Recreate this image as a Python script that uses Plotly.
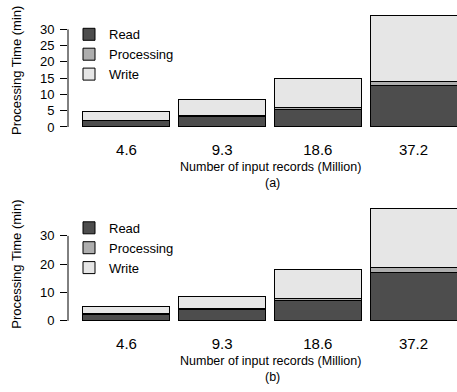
import plotly.graph_objects as go

# ---------------- data ----------------
categories = ["4.6", "9.3", "18.6", "37.2"]
series_names = ["Read", "Processing", "Write"]

read_a = [2.0, 3.2, 5.3, 12.7]
proc_a = [0.15, 0.2, 0.8, 1.3]
write_a = [2.6, 4.9, 8.9, 20.4]

read_b = [2.3, 4.0, 7.1, 17.2]
proc_b = [0.15, 0.2, 0.95, 1.7]
write_b = [2.65, 4.4, 10.0, 20.7]

yticks_a = [0, 5, 10, 15, 20, 25, 30]
yticks_b = [0, 10, 20, 30]

x_title = "Number of input records (Million)"
y_title = "Processing Time (min)"
panel_labels = ["(a)", "(b)"]

# ---------------- style ----------------
W, H = 457, 392
FONT = "Liberation Sans, Arial, Helvetica, sans-serif"
colors = ["#4D4D4D", "#AEAEAE", "#E6E6E6"]

fig = go.Figure()

panels = [
    dict(data=[read_a, proc_a, write_a], xa="x", ya="y", lg="legend"),
    dict(data=[read_b, proc_b, write_b], xa="x2", ya="y2", lg="legend2"),
]
for p in panels:
    for name, vals, col in zip(series_names, p["data"], colors):
        fig.add_trace(go.Bar(
            x=categories, y=vals, name=name,
            marker=dict(color=col, line=dict(color="black", width=1)),
            xaxis=p["xa"], yaxis=p["ya"], legend=p["lg"],
            hoverinfo="skip",
        ))

def px_to_paper_y(py):
    return 1 - py / H

x_dom = [68 / W, 1.0]
x_rng = [-0.611, 3.4545]

common_x = dict(domain=x_dom, type="category", range=x_rng, showline=False,
                ticks="", showgrid=False, zeroline=False,
                tickfont=dict(size=15, color="black", family=FONT),
                ticklabelstandoff=8)
common_y = dict(showline=False, ticks="outside", ticklen=7, tickwidth=1,
                tickcolor="black", showgrid=False, zeroline=False,
                tickfont=dict(size=13, color="black", family=FONT),
                ticklabelstandoff=3, tickmode="array")

# panel (a): zero at 128.3 px, 3.28 px/unit ; panel (b): zero at 323.3 px, 2.853 px/unit
ya_rng = [-1.378, 35.83]
yb_rng = [-1.584, 41.18]
fig.update_layout(
    xaxis=dict(common_x, anchor="y"),
    yaxis=dict(common_y, anchor="x", domain=[px_to_paper_y(132.5), px_to_paper_y(10.5)],
               range=ya_rng, tickvals=yticks_a, ticktext=[str(v) for v in yticks_a]),
    xaxis2=dict(common_x, anchor="y2"),
    yaxis2=dict(common_y, anchor="x2", domain=[px_to_paper_y(327.8), px_to_paper_y(205.8)],
                range=yb_rng, tickvals=yticks_b, ticktext=[str(v) for v in yticks_b]),
)

# R-style axis lines spanning only the tick range
fig.add_shape(type="line", xref="x domain", yref="y", x0=0, x1=0,
              y0=yticks_a[0], y1=yticks_a[-1], line=dict(color="black", width=1))
fig.add_shape(type="line", xref="x2 domain", yref="y2", x0=0, x1=0,
              y0=yticks_b[0], y1=yticks_b[-1], line=dict(color="black", width=1))

# titles
for off, lab, yc in [(0, panel_labels[0], 71.5), (195, panel_labels[1], 266.8)]:
    fig.add_annotation(xref="paper", yref="paper", x=17 / W, y=px_to_paper_y(yc),
                       text=y_title, textangle=-90, showarrow=False,
                       font=dict(size=13, color="black", family=FONT),
                       xanchor="center", yanchor="middle")
    fig.add_annotation(xref="paper", yref="paper", x=270 / W, y=px_to_paper_y(168.3 + off),
                       text=x_title, showarrow=False,
                       font=dict(size=12.5, color="black", family=FONT),
                       xanchor="center", yanchor="middle")
    fig.add_annotation(xref="paper", yref="paper", x=272 / W, y=px_to_paper_y(184.5 + off),
                       text=lab, showarrow=False,
                       font=dict(size=12.5, color="black", family=FONT),
                       xanchor="center", yanchor="middle")

leg_common = dict(xanchor="left", yanchor="top", traceorder="normal",
                  bgcolor="rgba(0,0,0,0)", borderwidth=0,
                  font=dict(size=13, color="black", family=FONT))
fig.update_layout(
    legend=dict(leg_common, x=69 / W, y=px_to_paper_y(19.5)),
    legend2=dict(leg_common, x=69 / W, y=px_to_paper_y(214.5)),
    barmode="stack", bargap=0.0909,
    width=W, height=H, autosize=False,
    margin=dict(l=0, r=0, t=0, b=0),
    paper_bgcolor="white", plot_bgcolor="white",
    font=dict(family=FONT, color="black"),
    showlegend=True,
)

fig.write_html("out.html")
